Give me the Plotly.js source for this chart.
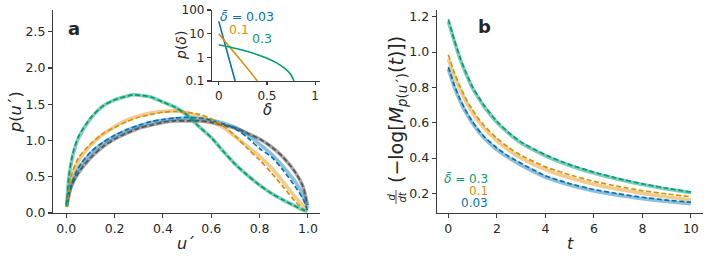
<!DOCTYPE html>
<html>
<head>
<meta charset="utf-8">
<script src="https://cdn.plot.ly/plotly-3.0.1.min.js"></script>
<style>html,body{margin:0;padding:0;background:#fff;}#chart{width:709px;height:257px;}</style>
</head>
<body>
<div id="chart"></div>
<script>
// ---------- Panel a: p(u') ----------
const uGrid = [0.002, 0.02, 0.05, 0.1, 0.15, 0.2, 0.25, 0.3, 0.35, 0.4, 0.45, 0.5, 0.55, 0.6, 0.65, 0.7, 0.75, 0.8, 0.85, 0.9, 0.95, 0.98, 0.998];
const pGray      = [0.11, 0.36, 0.55, 0.76, 0.91, 1.02, 1.10, 1.17, 1.21, 1.25, 1.27, 1.27, 1.27, 1.25, 1.21, 1.17, 1.10, 1.02, 0.91, 0.76, 0.55, 0.36, 0.11];
const pBlue      = [0.12, 0.38, 0.61, 0.82, 0.96, 1.06, 1.14, 1.20, 1.25, 1.28, 1.30, 1.31, 1.30, 1.28, 1.24, 1.18, 1.08, 0.95, 0.81, 0.63, 0.42, 0.24, 0.07];
const pBlueDash  = [0.12, 0.38, 0.62, 0.84, 0.97, 1.07, 1.15, 1.21, 1.26, 1.29, 1.31, 1.32, 1.31, 1.28, 1.23, 1.16, 1.04, 0.89, 0.77, 0.58, 0.35, 0.19, 0.04];
const pOrange    = [0.09, 0.47, 0.71, 0.93, 1.08, 1.19, 1.28, 1.34, 1.38, 1.40, 1.41, 1.38, 1.33, 1.26, 1.18, 1.05, 0.92, 0.78, 0.62, 0.42, 0.21, 0.10, 0.04];
const pOrangeDash= [0.08, 0.50, 0.76, 0.95, 1.09, 1.18, 1.26, 1.32, 1.36, 1.39, 1.40, 1.39, 1.36, 1.30, 1.20, 1.06, 0.89, 0.73, 0.55, 0.35, 0.15, 0.06, 0.02];
const uGreen = [0.002, 0.01, 0.026, 0.05, 0.1, 0.15, 0.2, 0.25, 0.275, 0.3, 0.35, 0.4, 0.45, 0.5, 0.55, 0.6, 0.65, 0.7, 0.75, 0.8, 0.85, 0.9, 0.95, 0.98, 0.998];
const pGreen     = [0.08, 0.46, 0.78, 1.03, 1.30, 1.47, 1.56, 1.61, 1.63, 1.625, 1.60, 1.53, 1.46, 1.35, 1.19, 1.04, 0.85, 0.67, 0.52, 0.385, 0.27, 0.175, 0.09, 0.04, 0.02];
const pGreenDash = [0.10, 0.49, 0.80, 1.05, 1.31, 1.47, 1.56, 1.61, 1.63, 1.625, 1.60, 1.53, 1.46, 1.35, 1.19, 1.04, 0.85, 0.67, 0.52, 0.385, 0.27, 0.175, 0.09, 0.04, 0.02];

// ---------- Inset: p(delta) ----------
const dBlue = [0, 0.05, 0.1, 0.15, 0.17];
const pdBlue = [33, 6.3, 1.2, 0.23, 0.1];
const dOrange = [0, 0.1, 0.2, 0.3, 0.4];
const pdOrange = [10, 3.3, 1.05, 0.33, 0.1];
const dGreen = [0, 0.1, 0.2, 0.3, 0.4, 0.5, 0.6, 0.7, 0.75, 0.78];
const pdGreen = [3.4, 2.8, 2.25, 1.75, 1.3, 0.92, 0.58, 0.3, 0.18, 0.1];

// ---------- Panel b ----------
const tGrid = [0, 0.25, 0.5, 0.75, 1, 1.25, 1.5, 2, 2.5, 3, 4, 5, 6, 7, 8, 9, 10];
const bGreen      = [1.175, 1.06, 0.955, 0.87, 0.795, 0.738, 0.687, 0.602, 0.538, 0.485, 0.413, 0.358, 0.315, 0.28, 0.25, 0.225, 0.204];
const bGreenDash  = [1.185, 1.067, 0.962, 0.876, 0.802, 0.744, 0.693, 0.608, 0.543, 0.49, 0.418, 0.363, 0.32, 0.284, 0.254, 0.229, 0.207];
const bOrange     = [0.96, 0.863, 0.782, 0.713, 0.655, 0.606, 0.565, 0.497, 0.443, 0.40, 0.335, 0.288, 0.252, 0.224, 0.20, 0.18, 0.163];
const bOrangeDash = [0.985, 0.882, 0.80, 0.73, 0.672, 0.622, 0.58, 0.512, 0.458, 0.415, 0.35, 0.305, 0.268, 0.24, 0.215, 0.197, 0.181];
const bBlue       = [0.905, 0.80, 0.718, 0.651, 0.595, 0.549, 0.509, 0.448, 0.40, 0.36, 0.292, 0.247, 0.214, 0.19, 0.17, 0.154, 0.141];
const bBlueDash   = [0.915, 0.811, 0.728, 0.661, 0.605, 0.558, 0.518, 0.457, 0.409, 0.37, 0.30, 0.255, 0.222, 0.198, 0.178, 0.162, 0.15];

const yTicksA = [0, 0.5, 1.0, 1.5, 2.0, 2.5];
const xTicksA = [0, 0.2, 0.4, 0.6, 0.8, 1.0];
const xTicksIn = [0, 0.5, 1];
const xTickTextIn = ['0', '0.5', '1'];
const yTicksIn = [0.1, 1, 10, 100];
const yTickTextIn = ['0.1', '1', '10', '100'];
const xTicksB = [0, 2, 4, 6, 8, 10];
const yTicksB = [0.2, 0.4, 0.6, 0.8, 1.0, 1.2];
const deltaLabels = ['0.03', '0.1', '0.3'];

const BLUE = '#0173B2', ORANGE = '#DE8F05', GREEN = '#029E73';
const BLUE_L = 'rgba(1,115,178,0.45)', ORANGE_L = 'rgba(222,143,5,0.45)', GREEN_L = 'rgba(2,158,115,0.5)', GRAY_L = 'rgba(110,110,110,0.6)';
const W = 709, H = 257;
const X = px => px / W, Y = py => 1 - py / H;
const DASH = '5px,2.6px';

function solid(x, y, c, xa, ya, w, shp, sm) { return {x: x, y: y, xaxis: xa, yaxis: ya, mode: 'lines', line: {color: c, width: w, shape: shp || 'spline', smoothing: sm || 0.8}, hoverinfo: 'skip'}; }
function dashed(x, y, c, xa, ya, shp, sm) { return {x: x, y: y, xaxis: xa, yaxis: ya, mode: 'lines', line: {color: c, width: 1.7, dash: DASH, shape: shp || 'spline', smoothing: sm || 0.8}, hoverinfo: 'skip'}; }

const traces = [
  solid(uGrid, pGray, GRAY_L, 'x', 'y', 3.6),
  solid(uGrid, pBlue, BLUE_L, 'x', 'y', 3.6),
  solid(uGrid, pOrange, ORANGE_L, 'x', 'y', 3.6),
  solid(uGreen, pGreen, GREEN_L, 'x', 'y', 3.6),
  dashed(uGrid, pGray, '#555555', 'x', 'y'),
  dashed(uGrid, pBlueDash, BLUE, 'x', 'y'),
  dashed(uGrid, pOrangeDash, ORANGE, 'x', 'y'),
  dashed(uGreen, pGreenDash, GREEN, 'x', 'y'),
  solid(dBlue, pdBlue, BLUE, 'x2', 'y2', 1.6, 'linear'),
  solid(dOrange, pdOrange, ORANGE, 'x2', 'y2', 1.6, 'linear'),
  solid(dGreen, pdGreen, GREEN, 'x2', 'y2', 1.6),
  solid(tGrid, bBlue, BLUE_L, 'x3', 'y3', 3.6, 'spline', 0.5),
  solid(tGrid, bOrange, ORANGE_L, 'x3', 'y3', 3.6, 'spline', 0.5),
  solid(tGrid, bGreen, GREEN_L, 'x3', 'y3', 3.6, 'spline', 0.5),
  dashed(tGrid, bBlueDash, BLUE, 'x3', 'y3', 'spline', 0.5),
  dashed(tGrid, bOrangeDash, ORANGE, 'x3', 'y3', 'spline', 0.5),
  dashed(tGrid, bGreenDash, GREEN, 'x3', 'y3', 'spline', 0.5)
];

const FONT = 'DejaVu Sans, sans-serif';
const TXT = '#262626';
const axBase = {showline: true, linecolor: '#3a3a3a', linewidth: 1.1, ticks: 'outside', ticklen: 4, tickwidth: 1.1, tickcolor: '#3a3a3a', showgrid: false, zeroline: false, mirror: false, fixedrange: true, tickfont: {family: FONT, size: 12.5, color: TXT}};

const layout = {
  width: W, height: H, margin: {l: 0, r: 0, t: 0, b: 0}, paper_bgcolor: '#fff', plot_bgcolor: 'rgba(0,0,0,0)', showlegend: false,
  font: {family: FONT, color: TXT},
  xaxis: Object.assign({}, axBase, {domain: [X(53), X(320)], range: [-0.055, 1.05], tickvals: xTicksA, tickformat: '.1f', anchor: 'y'}),
  yaxis: Object.assign({}, axBase, {domain: [Y(213), Y(10)], range: [0, 2.8], tickvals: yTicksA, tickformat: '.1f', anchor: 'x'}),
  xaxis2: Object.assign({}, axBase, {domain: [X(212), X(320)], range: [-0.07, 1.05], tickvals: xTicksIn, ticktext: xTickTextIn, anchor: 'y2', ticklen: 3, tickfont: {family: FONT, size: 12, color: TXT}}),
  yaxis2: Object.assign({}, axBase, {domain: [Y(81), Y(10)], type: 'log', range: [-1, 2], tickvals: yTicksIn, ticktext: yTickTextIn, anchor: 'x2', tickfont: {family: FONT, size: 12, color: TXT}}),
  xaxis3: Object.assign({}, axBase, {domain: [X(436.7), X(703)], range: [-0.48, 10.5], tickvals: xTicksB, anchor: 'y3'}),
  yaxis3: Object.assign({}, axBase, {domain: [Y(213), Y(10)], range: [0.089, 1.238], tickvals: yTicksB, tickformat: '.1f', anchor: 'x3'}),
  annotations: [],
  shapes: []
};

function ann(text, px, py, opts) {
  layout.annotations.push(Object.assign({text: text, x: X(px), y: Y(py), xref: 'paper', yref: 'paper', showarrow: false, xanchor: 'center', yanchor: 'middle', font: {family: FONT, size: 16, color: TXT}}, opts || {}));
}

// panel letters
ann('<b>a</b>', 74, 28, {font: {family: FONT, size: 18, color: TXT}});
ann('<b>b</b>', 484.5, 27, {font: {family: FONT, size: 18, color: TXT}});
// axis titles panel a
ann('<i>u</i>´', 186.5, 243);
ann('<i>p</i>(<i>u</i>´)', 15, 112, {textangle: -90});
// inset titles
ann('<i>δ</i>', 267, 110, {font: {family: FONT, size: 15, color: TXT}});
ann('<i>p</i>(<i>δ</i>)', 181, 46, {textangle: -90, font: {family: FONT, size: 14, color: TXT}});
// inset curve labels
ann('<i>δ̄</i> = ' + deltaLabels[0], 218, 17, {xanchor: 'left', font: {family: FONT, size: 12.5, color: BLUE}});
ann(deltaLabels[1], 227, 29, {xanchor: 'left', font: {family: FONT, size: 12.5, color: ORANGE}});
ann(deltaLabels[2], 250, 38, {xanchor: 'left', font: {family: FONT, size: 12.5, color: GREEN}});
// panel b titles
ann('<i>t</i>', 570, 243);
ann('(−log[<i>M</i><sub><i>p</i>(<i>u</i>´)</sub>(<i>t</i>)])', 397, 110, {textangle: -90, font: {family: FONT, size: 19, color: TXT}});
ann('<i>d</i>', 390.5, 197, {textangle: -90, font: {family: FONT, size: 10, color: TXT}});
ann('<i>dt</i>', 401.5, 197, {textangle: -90, font: {family: FONT, size: 10, color: TXT}});
layout.shapes.push({type: 'line', xref: 'paper', yref: 'paper', x0: X(396), x1: X(396), y0: Y(190), y1: Y(204), line: {color: TXT, width: 0.8}});
// panel b curve labels
ann('<i>δ̄</i> = ' + deltaLabels[2], 490, 179, {xanchor: 'right', font: {family: FONT, size: 12, color: GREEN}});
ann(deltaLabels[1], 490, 191, {xanchor: 'right', font: {family: FONT, size: 12, color: ORANGE}});
ann(deltaLabels[0], 490, 202.5, {xanchor: 'right', font: {family: FONT, size: 12, color: BLUE}});

Plotly.newPlot('chart', traces, layout, {staticPlot: true, displayModeBar: false});
</script>
</body>
</html>
